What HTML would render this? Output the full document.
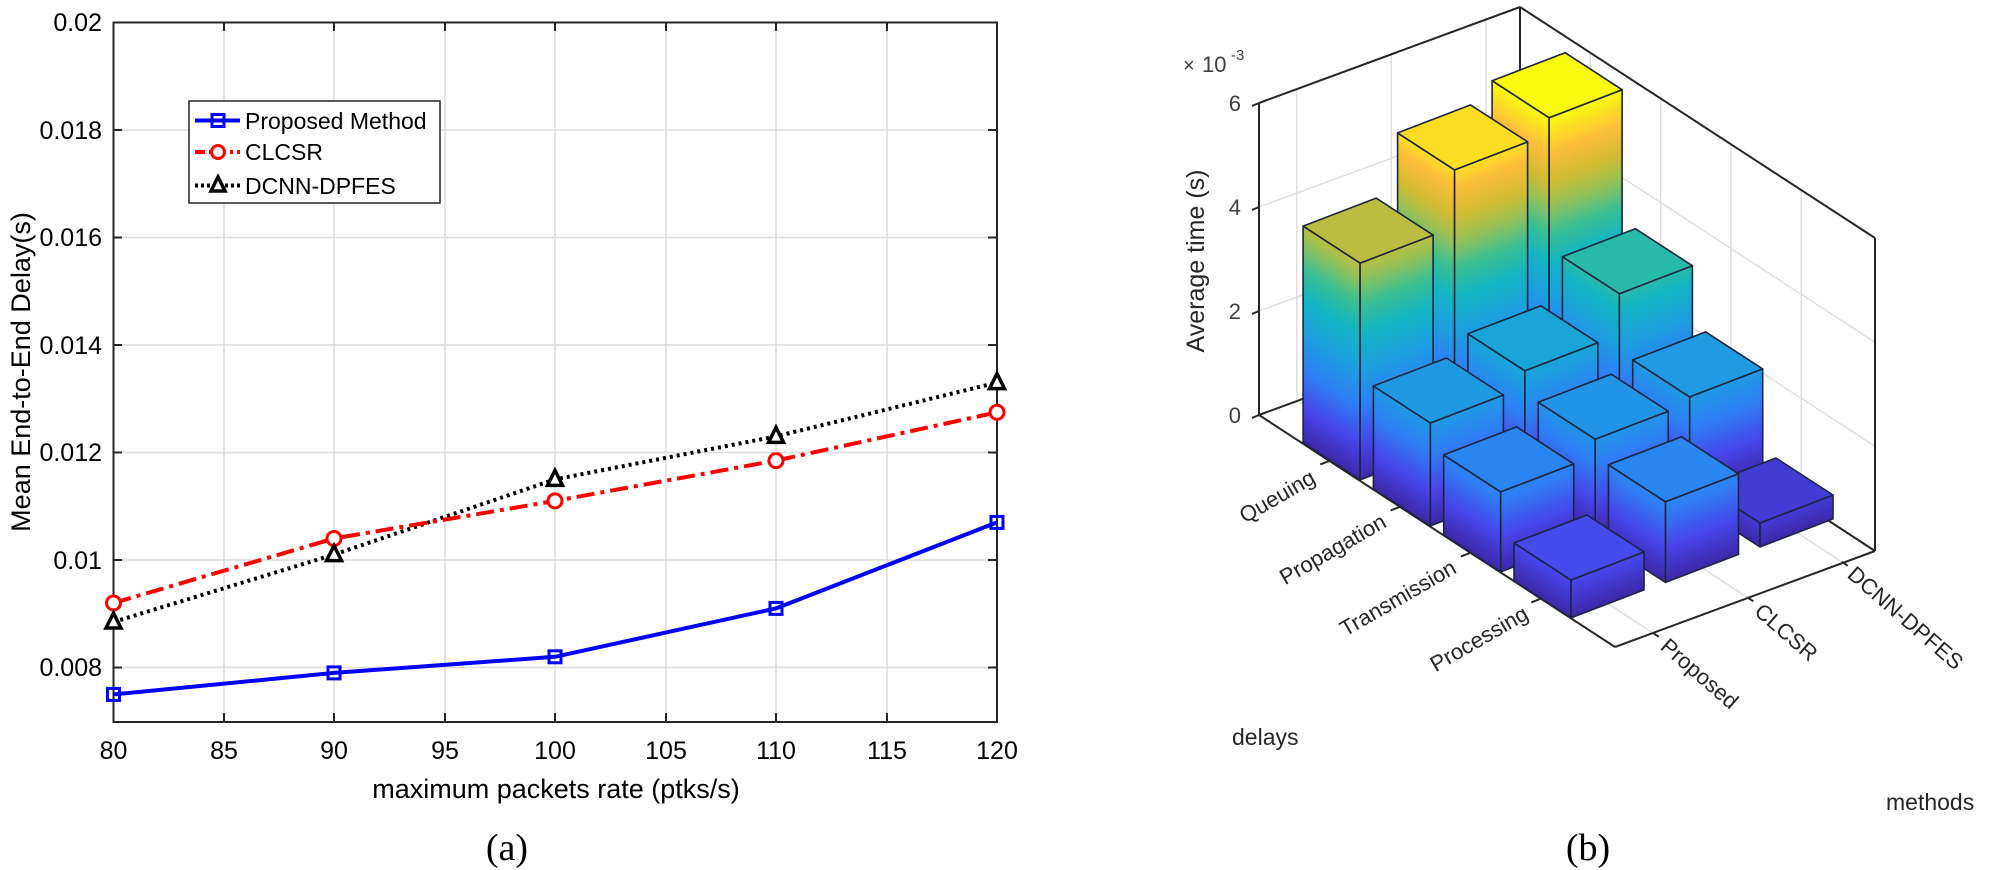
<!DOCTYPE html>
<html><head><meta charset="utf-8"><style>
html,body{margin:0;padding:0;background:#fff;}
svg{display:block;}
text{font-family:"Liberation Sans",sans-serif;}
</style></head><body>
<svg id="s" width="2008" height="870" viewBox="0 0 2008 870" xmlns="http://www.w3.org/2000/svg">
<defs></defs>
<g stroke="#dcdcdc" stroke-width="1.5">
<line x1="224" y1="22.5" x2="224" y2="722"/><line x1="334" y1="22.5" x2="334" y2="722"/>
<line x1="445" y1="22.5" x2="445" y2="722"/><line x1="555" y1="22.5" x2="555" y2="722"/>
<line x1="666" y1="22.5" x2="666" y2="722"/><line x1="776" y1="22.5" x2="776" y2="722"/>
<line x1="887" y1="22.5" x2="887" y2="722"/>
<line x1="113.5" y1="130" x2="997" y2="130"/><line x1="113.5" y1="237.5" x2="997" y2="237.5"/>
<line x1="113.5" y1="345" x2="997" y2="345"/><line x1="113.5" y1="452.5" x2="997" y2="452.5"/>
<line x1="113.5" y1="560" x2="997" y2="560"/><line x1="113.5" y1="667.5" x2="997" y2="667.5"/>
</g>
<rect x="113.5" y="22.5" width="883.5" height="699.5" fill="none" stroke="#262626" stroke-width="2"/>
<g stroke="#262626" stroke-width="2">
<line x1="224" y1="722" x2="224" y2="713"/><line x1="334" y1="722" x2="334" y2="713"/><line x1="445" y1="722" x2="445" y2="713"/><line x1="555" y1="722" x2="555" y2="713"/><line x1="666" y1="722" x2="666" y2="713"/><line x1="776" y1="722" x2="776" y2="713"/><line x1="887" y1="722" x2="887" y2="713"/>
<line x1="224" y1="22.5" x2="224" y2="31"/><line x1="334" y1="22.5" x2="334" y2="31"/><line x1="445" y1="22.5" x2="445" y2="31"/><line x1="555" y1="22.5" x2="555" y2="31"/><line x1="666" y1="22.5" x2="666" y2="31"/><line x1="776" y1="22.5" x2="776" y2="31"/><line x1="887" y1="22.5" x2="887" y2="31"/>
<line x1="113.5" y1="130" x2="122" y2="130"/><line x1="113.5" y1="237.5" x2="122" y2="237.5"/><line x1="113.5" y1="345" x2="122" y2="345"/><line x1="113.5" y1="452.5" x2="122" y2="452.5"/><line x1="113.5" y1="560" x2="122" y2="560"/><line x1="113.5" y1="667.5" x2="122" y2="667.5"/>
<line x1="997" y1="130" x2="988" y2="130"/><line x1="997" y1="237.5" x2="988" y2="237.5"/><line x1="997" y1="345" x2="988" y2="345"/><line x1="997" y1="452.5" x2="988" y2="452.5"/><line x1="997" y1="560" x2="988" y2="560"/><line x1="997" y1="667.5" x2="988" y2="667.5"/>
</g>
<g font-size="25" fill="#000" text-anchor="end">
<text x="102" y="31">0.02</text><text x="102" y="139">0.018</text><text x="102" y="246">0.016</text>
<text x="102" y="354">0.014</text><text x="102" y="461">0.012</text><text x="102" y="569">0.01</text><text x="102" y="676">0.008</text>
</g>
<g font-size="25" fill="#000" text-anchor="middle">
<text x="113.5" y="759">80</text><text x="224" y="759">85</text><text x="334" y="759">90</text><text x="445" y="759">95</text>
<text x="555" y="759">100</text><text x="666" y="759">105</text><text x="776" y="759">110</text><text x="887" y="759">115</text><text x="997" y="759">120</text>
</g>
<text x="556" y="798" font-size="27" text-anchor="middle">maximum packets rate (ptks/s)</text>
<text transform="translate(30,372) rotate(-90)" font-size="27" text-anchor="middle">Mean End-to-End Delay(s)</text>
<text x="507" y="860" font-size="38" text-anchor="middle" style="font-family:'Liberation Serif',serif">(a)</text>
<polyline fill="none" stroke="#000" stroke-width="4" stroke-dasharray="3,4" points="113.5,622 334,554.6 555,479.4 776,436.4 997,382.6"/>
<polyline fill="none" stroke="#ff0000" stroke-width="4" stroke-dasharray="18,6,4,6" points="113.5,603 334,538.5 555,500.9 776,460.6 997,412.3"/>
<polyline fill="none" stroke="#0000ff" stroke-width="4" points="113.5,694.4 334,672.9 555,656.8 776,608.4 997,522.4"/>
<g fill="none" stroke="#0000ff" stroke-width="3">
<rect x="107.5" y="688.4" width="12" height="12"/><rect x="328" y="666.9" width="12" height="12"/><rect x="549" y="650.8" width="12" height="12"/><rect x="770" y="602.4" width="12" height="12"/><rect x="991" y="516.4" width="12" height="12"/>
</g>
<g fill="#fff" stroke="#ff0000" stroke-width="3">
<circle cx="113.5" cy="603" r="7"/><circle cx="334" cy="538.5" r="7"/><circle cx="555" cy="500.9" r="7"/><circle cx="776" cy="460.6" r="7"/><circle cx="997" cy="412.3" r="7"/>
</g>
<g fill="#fff" stroke="#000" stroke-width="3.5">
<polygon points="113.5,613 106,628 121,628"/><polygon points="334,545.6 326.5,560.6 341.5,560.6"/><polygon points="555,470.4 547.5,485.4 562.5,485.4"/><polygon points="776,427.4 768.5,442.4 783.5,442.4"/><polygon points="997,373.6 989.5,388.6 1004.5,388.6"/>
</g>
<rect x="189" y="101" width="251" height="102" fill="#fff" stroke="#262626" stroke-width="1.5"/>
<line x1="195" y1="120.5" x2="240" y2="120.5" stroke="#0000ff" stroke-width="4"/>
<rect x="212" y="114.5" width="12" height="12" fill="none" stroke="#0000ff" stroke-width="3"/>
<line x1="195" y1="152" x2="240" y2="152" stroke="#ff0000" stroke-width="4" stroke-dasharray="10,4,3,4"/>
<circle cx="218" cy="152" r="6.5" fill="#fff" stroke="#ff0000" stroke-width="3"/>
<line x1="195" y1="185.5" x2="240" y2="185.5" stroke="#000" stroke-width="4" stroke-dasharray="3,3"/>
<polygon points="218,177 211,191 225,191" fill="#fff" stroke="#000" stroke-width="3.5"/>
<g font-size="23" fill="#000">
<text x="245" y="129">Proposed Method</text><text x="245" y="160">CLCSR</text><text x="245" y="194">DCNN-DPFES</text>
</g>
<g id="grid3d" stroke="#dedede" stroke-width="1.5" fill="none"></g>
<g id="box3d" stroke="#262626" stroke-width="2" fill="none">
<line x1="1259" y1="415" x2="1259" y2="103"/>
<line x1="1259" y1="103" x2="1520" y2="7"/>
<line x1="1520" y1="7" x2="1875" y2="238"/>
<line x1="1520" y1="7" x2="1520" y2="319"/>
<line x1="1875" y1="238" x2="1875" y2="551"/>
<line x1="1259" y1="415" x2="1520" y2="319"/>
<line x1="1520" y1="319" x2="1875" y2="551"/>
<line x1="1259" y1="415" x2="1615" y2="647"/>
<line x1="1615" y1="647" x2="1875" y2="551"/>
<line x1="1259" y1="415" x2="1252" y2="418"/><line x1="1259" y1="311" x2="1252" y2="314"/><line x1="1259" y1="207" x2="1252" y2="210"/><line x1="1259" y1="103" x2="1252" y2="106"/>
</g>
<g id="bars"></g>
<g font-size="22" fill="#404040" text-anchor="end">
<text x="1241" y="423">0</text><text x="1241" y="319">2</text><text x="1241" y="215">4</text><text x="1241" y="111">6</text>
</g>
<text x="1183" y="72" font-size="20" fill="#404040">×</text>
<text x="1202" y="72" font-size="22" fill="#404040">10</text>
<text x="1231" y="60" font-size="15" fill="#404040">-3</text>
<text transform="translate(1204,261) rotate(-90)" font-size="25" fill="#262626" text-anchor="middle">Average time (s)</text>
<g font-size="22" fill="#262626" text-anchor="end" dominant-baseline="middle">
<text transform="translate(1314,477) rotate(-30)">Queuing</text>
<text transform="translate(1385,521) rotate(-30)">Propagation</text>
<text transform="translate(1455,567) rotate(-30)">Transmission</text>
<text transform="translate(1527,613) rotate(-30)">Processing</text>
</g>
<g font-size="22" fill="#262626" text-anchor="start" dominant-baseline="middle">
<text transform="translate(1663,644) rotate(41)">Proposed</text>
<text transform="translate(1757,609) rotate(41)">CLCSR</text>
<text transform="translate(1850,572) rotate(41)">DCNN-DPFES</text>
</g>
<text x="1232" y="745" font-size="23" fill="#262626">delays</text>
<text x="1886" y="810" font-size="23" fill="#262626">methods</text>
<text x="1588" y="860" font-size="38" text-anchor="middle" style="font-family:'Liberation Serif',serif">(b)</text>
</svg>
<script>
(function(){
var NS="http://www.w3.org/2000/svg";
var O=[1259,415], d=[70.3,46], m=[94.5,-35.5], PX=52, ZMAX=5.6;
var H=[[4.17,5.28,5.6],[1.98,2.3,3.1],[1.54,1.87,2.0],[0.73,1.55,0.46]];
var stops=[[0,"#3e26a8"],[0.12,"#4645ea"],[0.25,"#2e7ff5"],[0.38,"#1ca0df"],[0.5,"#12b5c2"],[0.6,"#3bbf91"],[0.7,"#9ac154"],[0.78,"#d2bb30"],[0.88,"#fdbe3a"],[1,"#f9fb0e"]];
function hex(h){return [parseInt(h.substr(1,2),16),parseInt(h.substr(3,2),16),parseInt(h.substr(5,2),16)];}
function col(t){t=Math.max(0,Math.min(1,t));for(var k=1;k<stops.length;k++){if(t<=stops[k][0]){var a=stops[k-1],b=stops[k],f=(t-a[0])/(b[0]-a[0]);var A=hex(a[1]),B=hex(b[1]);return "rgb("+A.map(function(v,i){return Math.round(v+(B[i]-v)*f)}).join(",")+")";}}return stops[stops.length-1][1];}
var defs=document.querySelector("#s defs");
var grid=document.getElementById("grid3d"), bars=document.getElementById("bars");
function el(tag,attrs,parent){var e=document.createElementNS(NS,tag);for(var k in attrs)e.setAttribute(k,attrs[k]);parent.appendChild(e);return e;}
function line(a,b,p){el("line",{x1:a[0],y1:a[1],x2:b[0],y2:b[1]},p);}
var B=[1520,319],D=[356,232],M=[261,-96];
for(var z=2;z<=4;z+=2){var dz=z*PX;line([O[0],O[1]-dz],[B[0],B[1]-dz],grid);line([B[0],B[1]-dz],[B[0]+D[0],B[1]+D[1]-dz],grid);}
[0.4,1.4,2.4].forEach(function(b){var p=[O[0]+m[0]*b,O[1]+m[1]*b];line(p,[p[0],p[1]-312],grid);line(p,[p[0]+D[0],p[1]+D[1]],grid);});
[1,2,3,4].forEach(function(a){var p=[B[0]+d[0]*a,B[1]+d[1]*a];line(p,[p[0],p[1]-312],grid);var q=[O[0]+d[0]*a,O[1]+d[1]*a];line(q,[q[0]+M[0],q[1]+M[1]],grid);});
var box=document.getElementById("box3d");
[1,2,3,4].forEach(function(a){var q=[O[0]+d[0]*a,O[1]+d[1]*a];line(q,[q[0]-9,q[1]+3.4],box);});
[0.4,1.4,2.4].forEach(function(b){var q=[1615+m[0]*b,647+m[1]*b];line(q,[q[0]+6,q[1]+4],box);});
var gid=0;
function grad(x0,y0,slope){var id="g"+(gid++);var g=el("linearGradient",{id:id,gradientUnits:"userSpaceOnUse",x1:x0,y1:y0,x2:x0,y2:y0-ZMAX*PX,gradientTransform:"matrix(1,"+slope+",0,1,0,"+(-slope*x0)+")"},defs);
stops.forEach(function(s){el("stop",{offset:s[0],"stop-color":s[1]},g);});return "url(#"+id+")";}
var hd=[28.5,18.5], hm=[36.5,-14];
var order=[];for(var i=0;i<4;i++)for(var j=0;j<3;j++)order.push([i,j]);
order.sort(function(a,b){return (a[0]-a[1])-(b[0]-b[1]) || (a[0]-b[0]);});
order.forEach(function(ij){var i=ij[0],j=ij[1];
var c=[O[0]+d[0]*(1.014+i)+m[0]*(0.4+j),O[1]+d[1]*(1.014+i)+m[1]*(0.4+j)];
function P(a,b,h){return [c[0]+a*hd[0]+b*hm[0],c[1]+a*hd[1]+b*hm[1]-h];}
var h=H[i][j]*PX;
var fl=P(-1,-1,0),f=P(1,-1,0),r=P(1,1,0);
var fl2=P(-1,-1,h),f2=P(1,-1,h),r2=P(1,1,h),bk2=P(-1,1,h);
function pts(a){return a.map(function(p){return p[0].toFixed(1)+","+p[1].toFixed(1)}).join(" ");}
var st={stroke:"#1c2540","stroke-width":"1.6","stroke-linejoin":"round"};
el("polygon",Object.assign({points:pts([fl,f,f2,fl2]),fill:grad(f[0],f[1],hd[1]/hd[0])},st),bars);
el("polygon",Object.assign({points:pts([f,r,r2,f2]),fill:grad(f[0],f[1],hm[1]/hm[0])},st),bars);
el("polygon",Object.assign({points:pts([fl2,f2,r2,bk2]),fill:col(H[i][j]/ZMAX)},st),bars);
});
})();
</script>
</body></html>
